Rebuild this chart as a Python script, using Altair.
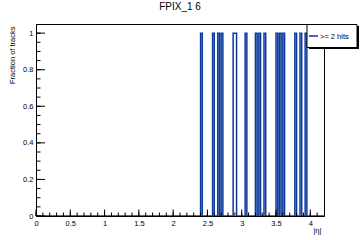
import altair as alt
import pandas as pd
import numpy as np

# Histogram: |eta| bins of width 0.025 from 0 to 4.2; bins with a non-zero fraction
bin_width = 0.025
eta_max = 4.2
filled_bin_low_edges = [2.4, 2.575, 2.65, 2.7, 2.875, 2.9, 3.05, 3.2, 3.25,
                        3.325, 3.5, 3.55, 3.6, 3.775, 3.85, 3.925]
filled_bin_values = [1, 1, 1, 1, 1, 1, 1, 1, 1,
                     1, 1, 1, 1, 1, 1, 1]
series_name = ">= 2 hits"

x_major_ticks = [0, 0.5, 1, 1.5, 2, 2.5, 3, 3.5, 4]
x_minor_ticks = [round(0.1 * i, 2) for i in range(42)]
y_major_ticks = [0, 0.2, 0.4, 0.6, 0.8, 1]
y_minor_ticks = [round(0.05 * i, 3) for i in range(21)]

n_bins = int(round(eta_max / bin_width))
edges = np.round(np.arange(n_bins + 1) * bin_width, 4)
vals = np.zeros(n_bins + 1)
for b, v in zip(filled_bin_low_edges, filled_bin_values):
    vals[int(round(b / bin_width))] = v
hist = pd.DataFrame({"eta": edges, "frac": vals, "series": series_name})
legend_df = pd.DataFrame({"series": [series_name]})

FONT = "Liberation Sans"
BLUE = "#0b3a9e"

xscale = alt.Scale(domain=[0, eta_max], nice=False, zero=False)
yscale = alt.Scale(domain=[0, 1.05], nice=False, zero=True)

xaxis = alt.Axis(values=x_major_ticks, format="~g", ticks=False, domain=True,
                 domainColor="black", domainWidth=1, zindex=1, grid=False,
                 labelFont=FONT, labelFontSize=7.5, labelColor="black", labelPadding=3,
                 labelFlush=False, labelOverlap=False,
                 title="|η|", titleFont=FONT, titleFontSize=7.5, titleFontWeight="normal",
                 titleColor="black", titleAnchor="end", titleAlign="right",
                 titleBaseline="middle", titleX=285, titleY=14)
yaxis = alt.Axis(values=y_major_ticks, format="~g", ticks=False, domain=True,
                 domainColor="black", domainWidth=1, zindex=1, grid=False,
                 labelFont=FONT, labelFontSize=7.5, labelColor="black", labelPadding=3,
                 labelFlush=False, labelOverlap=False,
                 title="Fraction of tracks", titleFont=FONT, titleFontSize=7.5,
                 titleFontWeight="normal", titleColor="black", titleAngle=270,
                 titleAlign="right", titleBaseline="middle", titleX=-24, titleY=2)

xenc = alt.X("eta:Q", scale=xscale, axis=xaxis)
yenc = alt.Y("frac:Q", scale=yscale, axis=yaxis)

line = alt.Chart(hist).mark_line(interpolate="step-after", strokeWidth=1.5, clip=True,
                                 color=BLUE).encode(x=xenc, y=yenc)

xmaj = alt.Chart(pd.DataFrame({"eta": x_major_ticks})).mark_rule(color="black", strokeWidth=1).encode(
    x=xenc, y=alt.value(192), y2=alt.value(185.5))
xmin = alt.Chart(pd.DataFrame({"eta": x_minor_ticks})).mark_rule(color="black", strokeWidth=1).encode(
    x=xenc, y=alt.value(192), y2=alt.value(188.5))
ymaj = alt.Chart(pd.DataFrame({"frac": y_major_ticks})).mark_rule(color="black", strokeWidth=1).encode(
    y=yenc, x=alt.value(0), x2=alt.value(9))
ymin = alt.Chart(pd.DataFrame({"frac": y_minor_ticks})).mark_rule(color="black", strokeWidth=1).encode(
    y=yenc, x=alt.value(0), x2=alt.value(4.5))

# legend box (ROOT TLegend style with shadow)
leg_shadow = alt.Chart(legend_df).mark_rect(fill="black").encode(
    x=alt.value(273), x2=alt.value(323), y=alt.value(2), y2=alt.value(25))
leg_box = alt.Chart(legend_df).mark_rect(fill="white", stroke="black", strokeWidth=1).encode(
    x=alt.value(271), x2=alt.value(321), y=alt.value(0.5), y2=alt.value(23.5))
leg_line = alt.Chart(legend_df).mark_rule(color=BLUE, strokeWidth=1.5).encode(
    x=alt.value(273), x2=alt.value(282), y=alt.value(12))
leg_text = alt.Chart(legend_df).mark_text(font=FONT, fontSize=7.5, color="black", align="left",
                                          baseline="middle").encode(
    x=alt.value(284), y=alt.value(12.5), text="series:N")

chart = alt.layer(line, xmaj, xmin, ymaj, ymin, leg_shadow, leg_box, leg_line, leg_text).properties(
    width=288, height=192,
    autosize=alt.AutoSizeParams(type="none"),
    padding={"left": 36, "top": 24, "right": 36, "bottom": 24},
    title=alt.TitleParams("FPIX_1 6", font=FONT, fontSize=10, fontWeight="normal",
                          color="black", anchor="middle", offset=12),
    background="white",
).configure_view(stroke="black", strokeWidth=1)

chart.save("out.html", embed_options={"renderer": "svg", "actions": False})
